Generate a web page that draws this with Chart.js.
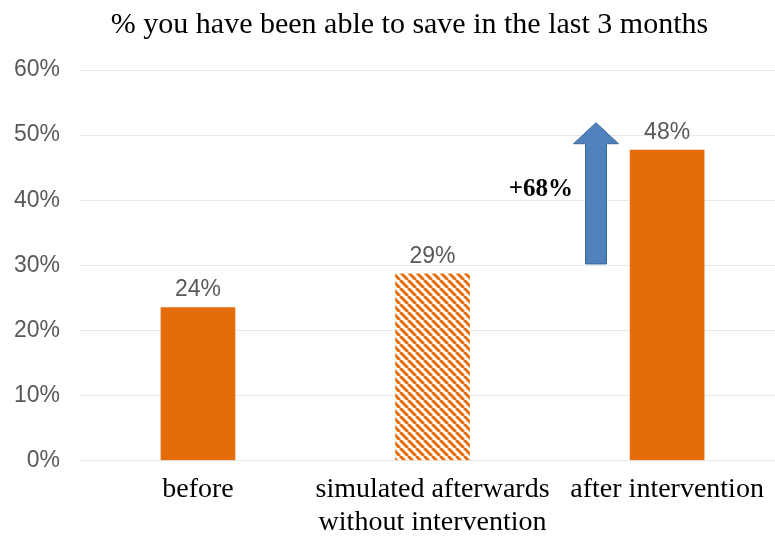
<!DOCTYPE html>
<html>
<head>
<meta charset="utf-8">
<script src="https://cdn.jsdelivr.net/npm/chart.js@4/dist/chart.umd.min.js"></script>
<style>
  html, body { margin: 0; padding: 0; background: #fff; }
  #wrap { width: 775px; height: 539px; }
</style>
</head>
<body>
<div id="wrap"><canvas id="c"></canvas></div>
<script>
// ── Data ─────────────────────────────────────────────────────────────────────
const categories  = ['before', ['simulated afterwards', 'without intervention'], 'after intervention'];
const savedPct    = [23.5, 28.7, 47.7];
const valueLabels = ['24%', '29%', '48%'];
const hatched     = [false, true, false];
const yTicks      = [0, 10, 20, 30, 40, 50, 60];
const titleText   = '% you have been able to save in the last 3 months';

// arrow annotation (in data units)
const arrowX     = 1.697;
const arrowFrom  = 30.2;
const arrowTo    = 51.9;
const arrowText  = '+68%';
const arrowTextY = 41.7;

const ORANGE = '#E46C0A';
const SERIF  = '"Liberation Serif", "Times New Roman", serif';
const SANS   = '"Liberation Sans", Arial, sans-serif';

// ── Hatch pattern ────────────────────────────────────────────────────────────
function makeHatch(color) {
  const s = 8;
  const cv = document.createElement('canvas');
  cv.width = s; cv.height = s;
  const g = cv.getContext('2d');
  g.strokeStyle = color;
  g.lineWidth = 3;
  for (let k = -1; k <= 1; k++) {
    g.beginPath();
    g.moveTo(k * s, 0);
    g.lineTo(k * s + s, s);
    g.stroke();
  }
  return g.createPattern(cv, 'repeat');
}
const hatch = makeHatch(ORANGE);

// ── Plugins ──────────────────────────────────────────────────────────────────
const extrasPlugin = {
  id: 'extras',
  afterDatasetsDraw(chart) {
    const { ctx } = chart;
    const xs = chart.scales.x, ys = chart.scales.y;

    // value labels
    ctx.save();
    ctx.font = '23px ' + SANS;
    ctx.fillStyle = '#595959';
    ctx.textAlign = 'center';
    ctx.textBaseline = 'bottom';
    chart.getDatasetMeta(0).data.forEach((bar, i) => {
      ctx.fillText(valueLabels[i], bar.x, bar.y - 6);
    });
    ctx.restore();

    // arrow
    const ax   = xs.getPixelForValue(arrowX);
    const yBot = ys.getPixelForValue(arrowFrom);
    const yTip = ys.getPixelForValue(arrowTo);
    const headH = 21, shaftW = 10.5, headW = 22.5;
    ctx.save();
    ctx.beginPath();
    ctx.moveTo(ax - shaftW, yBot);
    ctx.lineTo(ax - shaftW, yTip + headH);
    ctx.lineTo(ax - headW,  yTip + headH);
    ctx.lineTo(ax,          yTip);
    ctx.lineTo(ax + headW,  yTip + headH);
    ctx.lineTo(ax + shaftW, yTip + headH);
    ctx.lineTo(ax + shaftW, yBot);
    ctx.closePath();
    ctx.fillStyle = '#4F81BD';
    ctx.fill();
    ctx.strokeStyle = '#3A6797';
    ctx.lineWidth = 1;
    ctx.stroke();

    ctx.font = 'bold 25px ' + SERIF;
    ctx.fillStyle = '#000';
    ctx.textAlign = 'right';
    ctx.textBaseline = 'middle';
    ctx.fillText(arrowText, ax - 23, ys.getPixelForValue(arrowTextY));
    ctx.restore();

    // title
    ctx.save();
    ctx.font = '30px ' + SERIF;
    ctx.fillStyle = '#000';
    ctx.textAlign = 'center';
    ctx.textBaseline = 'middle';
    ctx.fillText(titleText, chart.width / 2 + 22, 25);
    ctx.restore();
  }
};

// ── Chart ────────────────────────────────────────────────────────────────────
new Chart(document.getElementById('c'), {
  type: 'bar',
  data: {
    datasets: [{
      data: savedPct.map((v, i) => ({ x: i, y: v })),
      backgroundColor: hatched.map(h => h ? hatch : ORANGE),
      borderWidth: 0,
      barThickness: 74,
    }],
  },
  options: {
    responsive: true,
    maintainAspectRatio: false,
    animation: false,
    layout: { padding: { top: 70, left: 13, right: 0, bottom: 0 } },
    plugins: { legend: { display: false }, tooltip: { enabled: false }, title: { display: false } },
    scales: {
      x: {
        type: 'linear',
        offset: false,
        min: -0.503,
        max: 2.46,
        afterBuildTicks: s => { s.ticks = categories.map((_, i) => ({ value: i })); },
        afterFit: s => { s.paddingLeft = 0; s.paddingRight = 0; s.height = 78.5; },
        grid: { display: false, drawTicks: false },
        border: { display: false },
        ticks: {
          autoSkip: false,
          maxRotation: 0,
          padding: 13,
          color: '#000',
          font: { family: SERIF, size: 28, lineHeight: 1.18 },
          callback: v => categories[v],
        },
      },
      y: {
        min: 0,
        max: 60,
        afterBuildTicks: s => { s.ticks = yTicks.map(v => ({ value: v })); },
        afterFit: s => { s.width = 67; },
        grid: { color: '#E8E8E8', lineWidth: 1, drawTicks: false },
        border: { display: false },
        ticks: {
          padding: 20,
          color: '#595959',
          font: { family: SANS, size: 23 },
          callback: v => v + '%',
        },
      },
    },
  },
  plugins: [extrasPlugin],
});
</script>
</body>
</html>
